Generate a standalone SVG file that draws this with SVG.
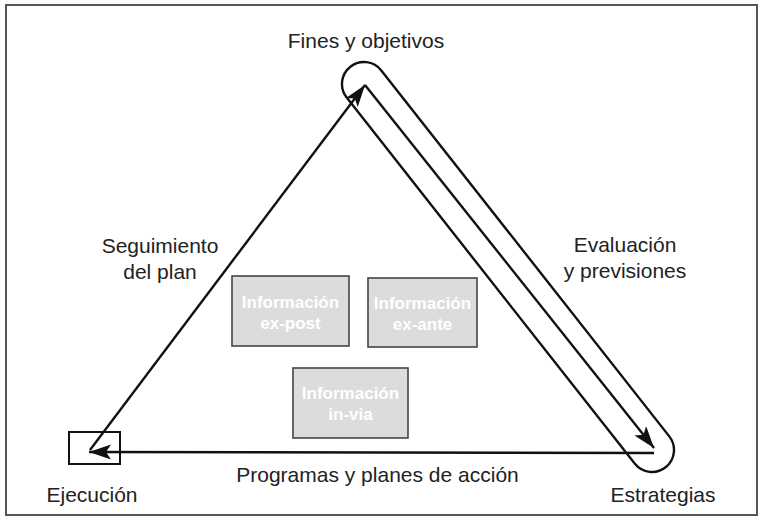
<svg xmlns="http://www.w3.org/2000/svg" width="763" height="520" viewBox="0 0 763 520">
<style>
.lbl{font-family:"Liberation Sans",Arial,sans-serif;font-size:21px;fill:#222;text-anchor:middle}
.info{font-family:"Liberation Sans",Arial,sans-serif;font-size:17px;font-weight:bold;fill:#fff;text-anchor:middle}
.box{fill:#dcdcdc;stroke:#444;stroke-width:1.6}
.ln{fill:none;stroke:#111;stroke-width:2.4}
</style>
<defs>
<marker id="ah" markerUnits="userSpaceOnUse" markerWidth="24" markerHeight="16" refX="22" refY="7.5" orient="auto">
<path d="M0,0 L22,7.5 L0,15 L5,7.5 Z" fill="#111"/>
</marker>
</defs>
<rect x="6" y="5" width="751" height="510" fill="#fff" stroke="#555" stroke-width="2"/>
<g id="connectors">
<rect class="ln" x="-22" y="-22" width="509.7" height="44" rx="22" transform="translate(364,84) rotate(51.8)"/>
<line class="ln" x1="90" y1="450" x2="365" y2="85" marker-end="url(#ah)"/>
<line class="ln" x1="365" y1="85" x2="654" y2="448" marker-end="url(#ah)"/>
<line class="ln" x1="654" y1="453" x2="89" y2="452" marker-end="url(#ah)"/>
</g>
<g id="fines"><text class="lbl" x="366" y="48">Fines y objetivos</text></g>
<g id="ejecucion">
<rect x="69" y="432" width="51" height="32" fill="none" stroke="#111" stroke-width="2"/>
<text class="lbl" x="92" y="502">Ejecución</text>
</g>
<g id="estrategias"><text class="lbl" x="663" y="502">Estrategias</text></g>
<g id="seguimiento"><text class="lbl" x="160" y="253">Seguimiento</text><text class="lbl" x="160" y="279">del plan</text></g>
<g id="evaluacion"><text class="lbl" x="625" y="252">Evaluación</text><text class="lbl" x="625" y="278">y previsiones</text></g>
<g id="programas"><text class="lbl" x="377.5" y="482">Programas y planes de acción</text></g>
<g id="expost"><rect class="box" x="232" y="276" width="117" height="70"/><text class="info" x="290.5" y="308">Información</text><text class="info" x="290.5" y="329">ex-post</text></g>
<g id="exante"><rect class="box" x="368" y="278" width="109" height="69"/><text class="info" x="422.5" y="309">Información</text><text class="info" x="422.5" y="330">ex-ante</text></g>
<g id="invia"><rect class="box" x="293" y="368" width="115" height="70"/><text class="info" x="350.5" y="399">Información</text><text class="info" x="350.5" y="420">in-via</text></g>
</svg>
